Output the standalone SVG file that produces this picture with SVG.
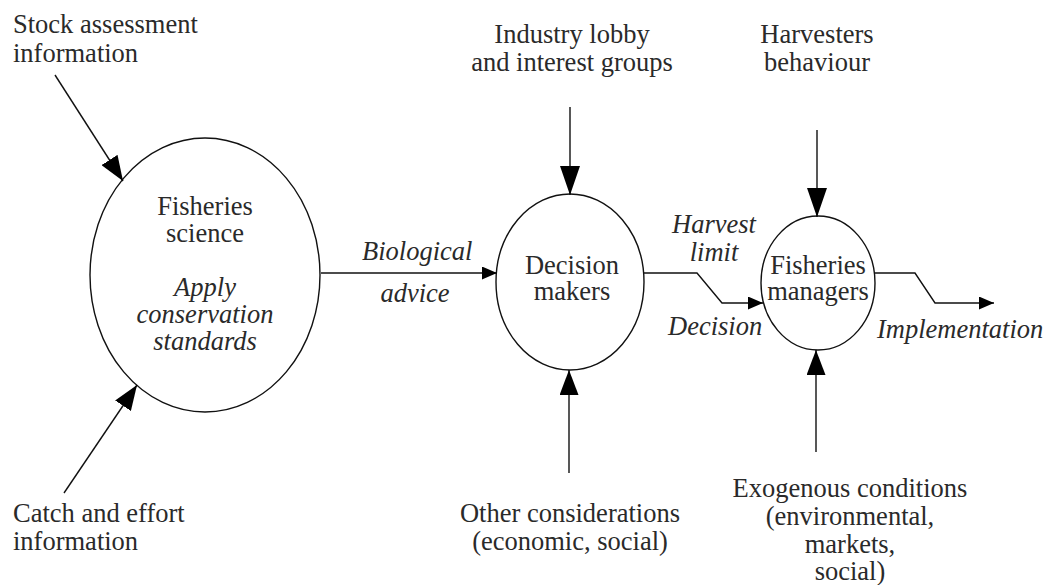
<svg xmlns="http://www.w3.org/2000/svg" width="1055" height="585" viewBox="0 0 1055 585">
  <style>
    text { font-family: "Liberation Serif", "Times New Roman", serif; font-size: 26.5px; fill: #2a2a2a; }
    .mid { text-anchor: middle; }
    .it { font-style: italic; }
    .node { fill: #fff; stroke: #111; stroke-width: 1.4; }
    .edge { fill: none; stroke: #111; stroke-width: 1.4; }
  </style>
  <defs>
    <marker id="headBig" markerUnits="userSpaceOnUse" markerWidth="29" markerHeight="20" refX="29" refY="10" orient="auto">
      <path d="M0,0 L29,10 L0,20 z" fill="#000"/>
    </marker>
    <marker id="headMid" markerUnits="userSpaceOnUse" markerWidth="25" markerHeight="19" refX="25" refY="9.5" orient="auto">
      <path d="M0,0 L25,9.5 L0,19 z" fill="#000"/>
    </marker>
    <marker id="headSmall" markerUnits="userSpaceOnUse" markerWidth="15" markerHeight="13" refX="15" refY="6.5" orient="auto">
      <path d="M0,0 L15,6.5 L0,13 z" fill="#000"/>
    </marker>
  </defs>

  <!-- Nodes -->
  <g id="fisheries-science">
    <ellipse class="node" cx="205" cy="275" rx="115" ry="137"/>
    <text class="mid" x="205" y="215">Fisheries</text>
    <text class="mid" x="205" y="242">science</text>
    <text class="mid it" x="205" y="296">Apply</text>
    <text class="mid it" x="205" y="323">conservation</text>
    <text class="mid it" x="205" y="350">standards</text>
  </g>

  <g id="decision-makers">
    <ellipse class="node" cx="570" cy="282" rx="74" ry="88"/>
    <text class="mid" x="572" y="274">Decision</text>
    <text class="mid" x="572" y="300">makers</text>
  </g>

  <g id="fisheries-managers">
    <ellipse class="node" cx="818" cy="283" rx="57" ry="67"/>
    <text class="mid" x="818" y="274">Fisheries</text>
    <text class="mid" x="818" y="300">managers</text>
  </g>

  <!-- Inputs and outputs -->
  <g id="stock-assessment">
    <text x="13" y="33">Stock assessment</text>
    <text x="13" y="62">information</text>
  </g>
  <g id="catch-effort">
    <text x="13" y="522">Catch and effort</text>
    <text x="13" y="550">information</text>
  </g>
  <g id="industry-lobby">
    <text class="mid" x="572" y="43">Industry lobby</text>
    <text class="mid" x="572" y="71">and interest groups</text>
  </g>
  <g id="other-considerations">
    <text class="mid" x="570" y="522">Other considerations</text>
    <text class="mid" x="570" y="550">(economic, social)</text>
  </g>
  <g id="harvesters">
    <text class="mid" x="817" y="43">Harvesters</text>
    <text class="mid" x="817" y="71">behaviour</text>
  </g>
  <g id="exogenous">
    <text class="mid" x="850" y="497">Exogenous conditions</text>
    <text class="mid" x="850" y="525">(environmental,</text>
    <text class="mid" x="850" y="553">markets,</text>
    <text class="mid" x="850" y="580">social)</text>
  </g>

  <!-- Connectors -->
  <g id="connectors">
    <line class="edge" x1="55" y1="75" x2="123" y2="181" marker-end="url(#headMid)"/>
    <line class="edge" x1="64" y1="493" x2="137" y2="385" marker-end="url(#headMid)"/>
    <line class="edge" x1="321" y1="273" x2="497" y2="273" marker-end="url(#headSmall)"/>
    <line class="edge" x1="570" y1="107" x2="570" y2="195" marker-end="url(#headBig)"/>
    <line class="edge" x1="569" y1="473" x2="569" y2="370" marker-end="url(#headMid)"/>
    <polyline class="edge" points="644,273 697,273 722,303 763,303" marker-end="url(#headSmall)"/>
    <line class="edge" x1="817" y1="130" x2="817" y2="217" marker-end="url(#headBig)"/>
    <line class="edge" x1="816" y1="452" x2="816" y2="350" marker-end="url(#headMid)"/>
    <polyline class="edge" points="875,273 915,273 935,303 994,303" marker-end="url(#headSmall)"/>

    <text class="it" x="362" y="260">Biological</text>
    <text class="mid it" x="415" y="302">advice</text>
    <text class="mid it" x="714" y="233">Harvest</text>
    <text class="mid it" x="714" y="261">limit</text>
    <text class="it" x="668" y="335">Decision</text>
    <text class="it" x="877" y="338">Implementation</text>
  </g>
</svg>
